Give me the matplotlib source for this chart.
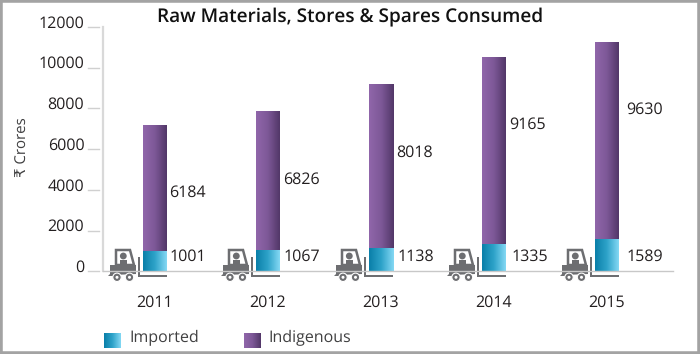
import numpy as np
import matplotlib
matplotlib.use('Agg')
import matplotlib.pyplot as plt
from matplotlib.patches import Rectangle, Circle, Polygon
from matplotlib.transforms import ScaledTranslation, blended_transform_factory

categories = ['2011', '2012', '2013', '2014', '2015']
imported = [1001, 1067, 1138, 1335, 1589]
indigenous = [6184, 6826, 8018, 9165, 9630]
yticks = [0, 2000, 4000, 6000, 8000, 10000, 12000]
indigenous_label_y = [3880, 4480, 5850, 7220, 7930]
imported_label_y = [700, 700, 700, 700, 700]
indigenous_label_dx = [14.5, 15.5, 15.5, 15.5, 19.5]
imported_label_dx = [14.5, 15.5, 16.5, 17.5, 19.5]

plt.rcParams['font.family'] = ['Open Sans', 'DejaVu Sans']
plt.rcParams['text.hinting'] = 'no_hinting'
plt.rcParams['text.hinting_factor'] = 1
W, H = 700, 354
TXT = '#231f20'
GREY = '#6d6e71'
fig = plt.figure(figsize=(W / 100, H / 100), dpi=100, facecolor='white')

# overlay in pixel coordinates for frame, legend and forklift pictograms
ov = fig.add_axes([0, 0, 1, 1], zorder=0)
ov.set_xlim(0, W); ov.set_ylim(H, 0); ov.axis('off')
ov.add_patch(Rectangle((0, 0), W, H, fc='none', ec='#a3a3a3', lw=4))

L, R, T, B = 103, 673, 27, 271.3
ax = fig.add_axes([L / W, 1 - B / H, (R - L) / W, (B - T) / H], zorder=1)
ax.patch.set_alpha(0)
spacing = 113
first = 155
width = 24 / spacing

for s in ['top', 'right']:
    ax.spines[s].set_visible(False)
ax.spines['left'].set_color('#d9d9d9'); ax.spines['left'].set_linewidth(1.6)
ax.spines['bottom'].set_color('#c8c8c8'); ax.spines['bottom'].set_linewidth(1.0)

blue = matplotlib.colors.LinearSegmentedColormap.from_list('b', ['#0a7fa9', '#2ea3c9', '#84d8f4'])
purple = matplotlib.colors.LinearSegmentedColormap.from_list('p', ['#9066aa', '#7d5897', '#523768'])
grad = np.linspace(0, 1, 64)[None, :]

x = np.arange(len(categories))
b1 = ax.bar(x, imported, width, color='none', clip_on=False)
b2 = ax.bar(x, indigenous, width, bottom=imported, color='none')
for bars, cm in ((b1, blue), (b2, purple)):
    for r in bars:
        ax.imshow(grad, cmap=cm, aspect='auto', zorder=2, interpolation='bilinear',
                  extent=[r.get_x(), r.get_x() + r.get_width(), r.get_y(), r.get_y() + r.get_height()])
ax.set_xlim((L - first) / spacing, (R - first) / spacing)
ax.set_ylim(0, 12000)

ax.set_xticks(x, categories, fontsize=11.2, color=TXT)
ax.tick_params(axis='x', length=0, pad=16.5)
ax.set_yticks(yticks, [str(v) for v in yticks], fontsize=11.8, color=TXT)
ax.tick_params(axis='y', length=0, pad=13.5)
for lab in ax.get_yticklabels():
    lab.set_transform(lab.get_transform() + ScaledTranslation(0, 5.5 / 100, fig.dpi_scale_trans))

# detached y tick dashes
tr = blended_transform_factory(fig.transFigure, ax.transData)
for v in yticks:
    ax.plot([88 / W, 99 / W], [v, v], transform=tr, color='#d0d0d0', lw=1.0, clip_on=False)

ax.set_ylabel('₹ Crores', fontsize=11, color='#404041', va='center')
ax.yaxis.set_label_coords((22.5 - L) / (R - L), (B - 147.5) / (B - T))

for i in x:
    ax.text(i + indigenous_label_dx[i] / spacing, indigenous_label_y[i], str(indigenous[i]),
            fontsize=11.3, color=TXT, va='center', ha='left')
    ax.text(i + imported_label_dx[i] / spacing, imported_label_y[i], str(imported[i]),
            fontsize=11.3, color=TXT, va='center', ha='left')

def forklift(dx):
    c = GREY
    ov.add_patch(Polygon([(110 + dx, 265), (136 + dx, 265), (136 + dx, 274), (113 + dx, 275),
                          (113 + dx, 276), (108 + dx, 276), (110 + dx, 274)], fc=c, ec='none'))
    ov.add_patch(Polygon([(116 + dx, 265), (116 + dx, 250), (130 + dx, 250), (134 + dx, 265)], fc='none', ec=c, lw=1.8))
    ov.add_patch(Circle((123.3 + dx, 256), 3.4, fc=c, ec='none'))
    ov.add_patch(Rectangle((119.5 + dx, 260), 7.5, 5, fc=c, ec='none'))
    for wx in (117, 129.5):
        ov.add_patch(Circle((wx + dx, 277.3), 4.2, fc=c, ec='white', lw=0.8, zorder=3))
        ov.add_patch(Circle((wx + dx, 277.3), 1.5, fc='white', ec='none', zorder=4))
    ov.add_patch(Rectangle((138 + dx, 257), 2, 20, fc=c, ec='none'))
    ov.add_patch(Rectangle((138 + dx, 275), 28.5, 2.4, fc=c, ec='none'))

for i in x:
    forklift(i * spacing)

ov.text(350, 17.5, 'Raw Materials, Stores & Spares Consumed', fontsize=13.5, fontweight='semibold',
        color='#111111', ha='center', va='center')

def swatch(x0, cm):
    ov.imshow(grad, cmap=cm, aspect='auto', extent=[x0, x0 + 17, 348, 333], interpolation='bilinear')

swatch(104, blue)
swatch(244, purple)
ov.set_xlim(0, W); ov.set_ylim(H, 0)
ov.text(129, 337.5, 'Imported', fontsize=11.7, color='#404041', ha='left', va='center')
ov.text(268, 337.5, 'Indigenous', fontsize=11.7, color='#404041', ha='left', va='center')

fig.savefig('out.png', dpi=100)
